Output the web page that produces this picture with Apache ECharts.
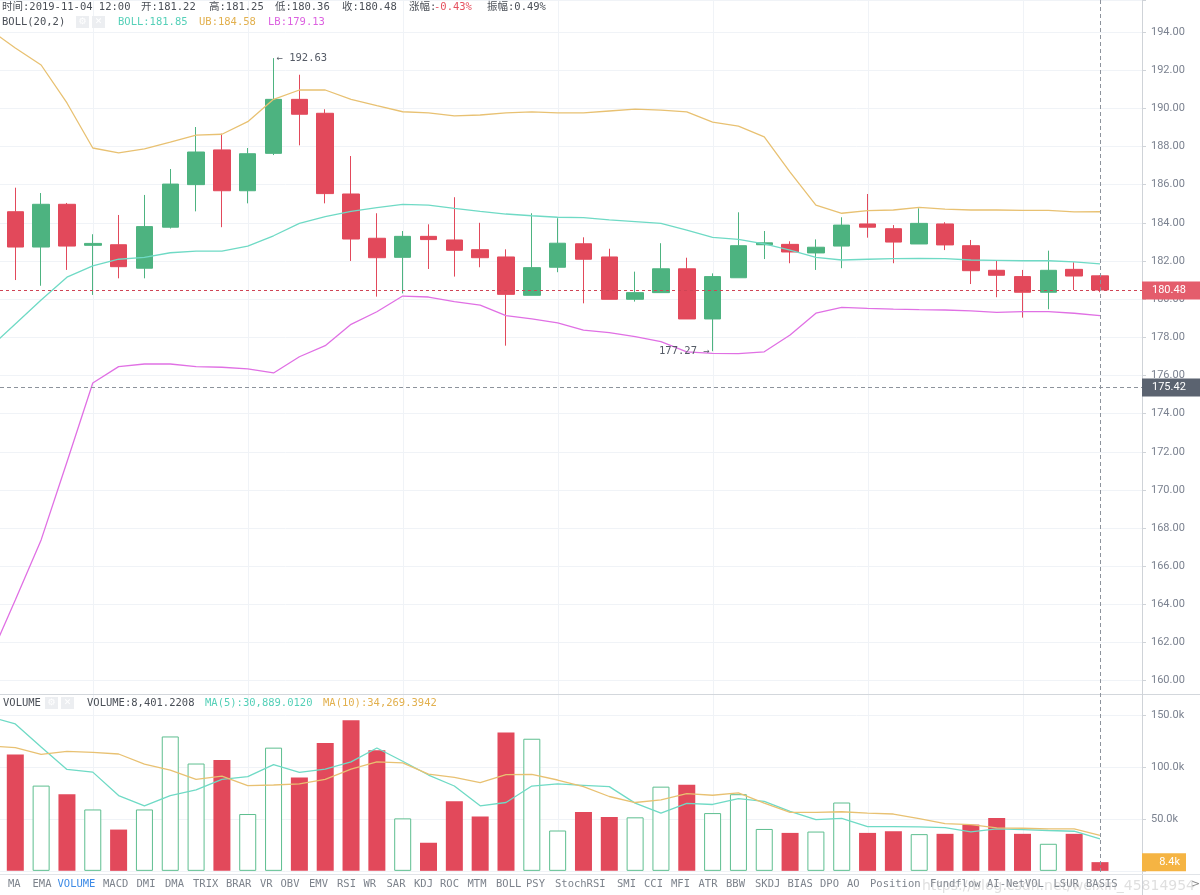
<!DOCTYPE html>
<html><head><meta charset="utf-8">
<script src="https://cdn.jsdelivr.net/npm/echarts@6/dist/echarts.min.js"></script>
<style>html,body{margin:0;padding:0;background:#fff}#c{width:1200px;height:895px}</style>
</head><body><div id="c"></div><script>
// ---------------- data ----------------
const categories = [
 '2019-11-02 18:00','2019-11-02 19:00','2019-11-02 20:00','2019-11-02 21:00','2019-11-02 22:00','2019-11-02 23:00',
 '2019-11-03 00:00','2019-11-03 01:00','2019-11-03 02:00','2019-11-03 03:00','2019-11-03 04:00','2019-11-03 05:00',
 '2019-11-03 06:00','2019-11-03 07:00','2019-11-03 08:00','2019-11-03 09:00','2019-11-03 10:00','2019-11-03 11:00',
 '2019-11-03 12:00','2019-11-03 13:00','2019-11-03 14:00','2019-11-03 15:00','2019-11-03 16:00','2019-11-03 17:00',
 '2019-11-03 18:00','2019-11-03 19:00','2019-11-03 20:00','2019-11-03 21:00','2019-11-03 22:00','2019-11-03 23:00',
 '2019-11-04 00:00','2019-11-04 01:00','2019-11-04 02:00','2019-11-04 03:00','2019-11-04 04:00','2019-11-04 05:00',
 '2019-11-04 06:00','2019-11-04 07:00','2019-11-04 08:00','2019-11-04 09:00','2019-11-04 10:00','2019-11-04 11:00',
 '2019-11-04 12:00'];
const openValues = [184.58,182.73,184.97,182.82,182.85,181.62,183.77,186.00,187.82,185.68,187.64,190.47,189.74,185.51,183.19,182.19,183.29,183.10,182.59,182.21,180.20,181.67,182.90,182.21,179.99,180.34,181.59,178.96,181.12,182.85,182.87,182.42,182.78,183.94,183.69,182.89,183.94,182.80,181.51,181.18,180.36,181.56,181.22];
const closeValues = [182.73,184.97,182.78,182.92,181.70,183.80,186.03,187.71,185.68,187.62,190.47,189.69,185.53,183.15,182.17,183.29,183.12,182.56,182.17,180.25,181.65,182.93,182.09,179.99,180.34,181.59,178.96,181.18,182.80,182.95,182.47,182.72,183.88,183.77,182.99,183.97,182.84,181.49,181.25,180.36,181.51,181.21,180.48];
const lowValues = [181.00,180.70,181.53,180.22,181.09,181.09,183.70,184.60,183.77,185.02,187.55,188.06,185.02,182.00,180.13,180.30,181.58,181.18,181.67,177.56,180.20,181.41,179.78,179.99,179.87,180.34,178.96,177.27,181.12,182.10,181.88,181.53,181.62,183.22,181.88,182.89,182.57,180.79,180.10,179.03,179.47,180.48,180.36];
const highValues = [185.84,185.56,185.04,183.40,184.41,185.46,186.82,189.02,188.67,187.92,192.63,191.76,189.95,187.50,184.50,183.57,183.92,185.34,184.00,182.61,184.50,184.24,183.24,182.64,181.44,182.93,182.17,181.35,184.55,183.57,183.03,183.13,184.29,185.51,183.88,184.76,184.03,183.10,182.01,181.53,182.54,181.93,181.25];
// indicator lines: first value belongs to the (off-screen) candle before the first one
const bollMid = [177.45,178.70,179.95,181.15,181.74,182.09,182.19,182.43,182.52,182.52,182.78,183.32,183.97,184.32,184.60,184.79,184.97,184.93,184.76,184.60,184.46,184.37,184.29,184.27,184.15,184.06,183.97,183.62,183.24,183.13,182.89,182.57,182.19,182.05,182.09,182.12,182.14,182.12,182.05,182.03,182.01,182.01,181.95,181.85];
const bollUpper = [194.14,193.16,192.27,190.28,187.92,187.66,187.87,188.23,188.60,188.64,189.30,190.47,190.96,190.96,190.47,190.14,189.82,189.76,189.60,189.65,189.76,189.81,189.76,189.76,189.86,189.96,189.91,189.81,189.28,189.07,188.50,186.66,184.93,184.50,184.64,184.67,184.81,184.72,184.67,184.67,184.65,184.65,184.57,184.58];
const bollLower = [161.14,164.23,167.38,171.46,175.60,176.46,176.60,176.60,176.46,176.43,176.34,176.13,176.98,177.56,178.68,179.34,180.16,180.11,179.87,179.69,179.13,178.96,178.76,178.38,178.24,178.03,177.77,177.24,177.16,177.14,177.24,178.12,179.26,179.57,179.52,179.48,179.45,179.43,179.38,179.31,179.34,179.34,179.26,179.13];
const volumes = [112100,82200,73900,59200,39800,59200,129600,103500,107000,54800,118800,90100,123200,145200,116200,50600,27100,67200,52500,133400,127400,38900,56700,51900,51600,81200,83100,55700,73900,40400,36600,37900,65900,36600,38200,35400,35700,44600,51000,35700,26100,35700,8401.2208];
const volumeMA5 = [148700,141700,119400,97800,95200,72600,62700,72600,78000,88200,90800,102500,94900,98100,105100,118500,105700,92400,81800,62700,65900,81800,83800,82500,81200,65300,55700,65000,64000,69700,66900,57300,49400,50600,42700,42700,42400,41700,37600,40400,39800,38900,38200,30889.012];
const volumeMA10 = [120400,118800,112400,115300,114300,112700,102900,97100,88200,91400,82200,82800,83800,88200,98100,105100,104100,93300,90100,85000,92700,93000,87600,81200,71700,65900,68500,74500,72900,75200,65300,56400,56400,57000,55700,54800,50300,45500,44600,41400,41100,40400,40400,34269.3942];
const priceTickStep = 2;
const volumeTickStep = 50000;
const crosshairPrice = 175.42;
const headerLine1 = [['时间:2019-11-04 12:00',2],['开:181.22',141],['高:181.25',209],['低:180.36',275],['收:180.48',342],['涨幅:',409],['-0.43%',434,'red'],['振幅:0.49%',487]];
const toolbarLabels = ['MA','EMA','VOLUME','MACD','DMI','DMA','TRIX','BRAR','VR','OBV','EMV','RSI','WR','SAR','KDJ','ROC','MTM','BOLL','PSY','StochRSI','SMI','CCI','MFI','ATR','BBW','SKDJ','BIAS','DPO','AO','Position','Fundflow','AI-NetVOL','LSUR','BASIS'];

// ---------------- layout / style ----------------
const toolbarX = [8,32.5,57.5,103,136.5,165,193,226,260,280.5,309,337,363.5,386.5,414,440,467.5,496,526,555,617,644,671,698.5,726,755,787.5,820,847,870,930,987,1053.5,1086];
const RED = '#E2495B', GREEN = '#4DB380', HOLLOW = '#5DBE8F';
const C_MID = '#6FDAC5', C_UB = '#E8C172', C_LB = '#E070E4';
const T_MID = '#55D0B8', T_UB = '#E2B04E', T_LB = '#DC62E0';
const MONO = '10.5px "DejaVu Sans Mono","Noto Sans CJK SC",monospace';
const BAND = 25.826;      // px per candle
const FIRST_X = 15.3;     // px centre of first candle
const AX_X = 1142;        // price axis line
const X_MIN = -FIRST_X / BAND, X_MAX = (AX_X - FIRST_X) / BAND;
const PANE_SPLIT = 694, VOL_BOTTOM = 870.85;
const yTop = 194 + 32 / 19.08, yBottom = 194 - (PANE_SPLIT - 32) / 19.08;
const volMax = (VOL_BOTTOM - PANE_SPLIT) / 103.7 * 100000;

const chart = echarts.init(document.getElementById('c'), null, {renderer:'canvas', width:1200, height:895});

const candleData = categories.map((c, i) => [i, openValues[i], closeValues[i], lowValues[i], highValues[i]]);
const lineData = arr => arr.map((v, i) => [i - 1, v]);
const volData = volumes.map((v, i) => {
  const down = closeValues[i] < openValues[i];
  return {value: [i, v], itemStyle: down
    ? {color: RED, borderColor: RED, borderWidth: 0}
    : {color: '#ffffff', borderColor: HOLLOW, borderWidth: 1}};
});
const gridLine = {show: true, lineStyle: {color: '#f0f3f7', width: 1}};
const xAx = gi => ({type: 'value', gridIndex: gi, min: X_MIN, max: X_MAX,
  axisLine: {show: false, onZero: false}, axisTick: {show: false}, axisLabel: {show: false}, splitLine: {show: false}});
const axLabel = {color: '#7b8290', fontSize: 11, fontFamily: 'Roboto', margin: 9};
const isStep = (v, s) => Math.abs(v / s - Math.round(v / s)) < 1e-6;

chart.setOption({
  animation: false,
  backgroundColor: '#ffffff',
  grid: [
    {left: 0, right: 1200 - AX_X, top: 0, height: PANE_SPLIT},
    {left: 0, right: 1200 - AX_X, top: PANE_SPLIT, height: VOL_BOTTOM - PANE_SPLIT}
  ],
  xAxis: [xAx(0), xAx(1)],
  yAxis: [
    {type: 'value', gridIndex: 0, position: 'right', min: yBottom, max: yTop, minInterval: priceTickStep, maxInterval: priceTickStep, splitNumber: 18,
     axisLine: {show: true, onZero: false, lineStyle: {color: '#cfd3d8'}}, axisTick: {show: true, length: 4, lineStyle: {color: '#cfd3d8'}},
     axisLabel: Object.assign({}, axLabel, {formatter: v => isStep(v, priceTickStep) ? v.toFixed(2) : ''}),
     splitLine: gridLine},
    {type: 'value', gridIndex: 1, position: 'right', min: 0, max: volMax, interval: volumeTickStep,
     axisLine: {show: true, onZero: false, lineStyle: {color: '#cfd3d8'}}, axisTick: {show: true, length: 4, lineStyle: {color: '#cfd3d8'}},
     axisLabel: Object.assign({}, axLabel, {formatter: v => (v > 0 && isStep(v, volumeTickStep)) ? (v / 1000).toFixed(1) + 'k' : ''}),
     splitLine: gridLine}
  ],
  series: [
    {type: 'candlestick', name: 'K', xAxisIndex: 0, yAxisIndex: 0, data: candleData, barWidth: 17,
     encode: {x: 0, y: [1, 2, 3, 4]},
     itemStyle: {color: GREEN, color0: RED, borderColor: GREEN, borderColor0: RED, borderWidth: 1}},
    {type: 'line', name: 'BOLL', xAxisIndex: 0, yAxisIndex: 0, data: lineData(bollMid), showSymbol: false, symbol: 'none', z: 3, lineStyle: {color: C_MID, width: 1.3}},
    {type: 'line', name: 'UB', xAxisIndex: 0, yAxisIndex: 0, data: lineData(bollUpper), showSymbol: false, symbol: 'none', z: 3, lineStyle: {color: C_UB, width: 1.3}},
    {type: 'line', name: 'LB', xAxisIndex: 0, yAxisIndex: 0, data: lineData(bollLower), showSymbol: false, symbol: 'none', z: 3, lineStyle: {color: C_LB, width: 1.3}},
    {type: 'bar', name: 'VOLUME', xAxisIndex: 1, yAxisIndex: 1, data: volData, barWidth: 17},
    {type: 'line', name: 'MA5', xAxisIndex: 1, yAxisIndex: 1, data: lineData(volumeMA5), showSymbol: false, symbol: 'none', z: 3, lineStyle: {color: C_MID, width: 1.3}},
    {type: 'line', name: 'MA10', xAxisIndex: 1, yAxisIndex: 1, data: lineData(volumeMA10), showSymbol: false, symbol: 'none', z: 3, lineStyle: {color: C_UB, width: 1.3}}
  ]
});

// ---------------- overlays ----------------
const P = (gi, x, y) => chart.convertToPixel({gridIndex: gi}, [x, y]);
const G = [];
const txt = (x, y, text, fill, o = {}) => G.push({type: 'text', x, y, silent: true, z: o.z ?? 100,
  style: {text, fill, font: o.font || MONO, textAlign: o.align || 'left', textVerticalAlign: 'middle'}});
const ln = (x1, y1, x2, y2, stroke, dash, z) => G.push({type: 'line', silent: true, z: z ?? 90,
  shape: {x1, y1, x2, y2}, style: {stroke, lineWidth: 1, lineDash: dash || null}});
const rc = (x, y, width, height, fill, z, stroke) => G.push({type: 'rect', silent: true, z: z ?? 95,
  shape: {x, y, width, height}, style: {fill, stroke: stroke || null}});

// vertical grid lines every 6 candles (behind the series)
categories.forEach((c, i) => {
  if (i % 6 === 3) {
    const x = Math.round(P(0, i, 180)[0]) + 0.5;
    ln(x, 0, x, PANE_SPLIT, '#f0f3f7', null, 0);
    ln(x, PANE_SPLIT, x, VOL_BOTTOM, '#f0f3f7', null, 0);
  }
});

const last = categories.length - 1;
const lastX = Math.round(P(0, last, 180)[0]) + 0.5;
const yLast = Math.round(P(0, 0, closeValues[last])[1]) + 0.5;
const yCross = Math.round(P(0, 0, crosshairPrice)[1]) + 0.5;
const yVol = P(1, 0, volumes[last])[1];

// pane separators, axis line, toolbar border
ln(0, PANE_SPLIT + 0.5, 1200, PANE_SPLIT + 0.5, '#d3d7dc', null, 80);
ln(AX_X + 0.5, 0, AX_X + 0.5, 895, '#cfd3d8', null, 80);
ln(0, 874.5, 1200, 874.5, '#e1e4e8', null, 80);
// last price and crosshair lines
ln(0, yLast, AX_X, yLast, '#cf4455', [3, 3]);
ln(0, yCross, AX_X, yCross, '#8d939c', [4, 3]);
ln(lastX, 0, lastX, 874, '#8d939c', [4, 3]);
// axis value boxes
rc(AX_X, yLast - 9, 58, 18, '#E45D6C', 96);
txt(1152, yLast, closeValues[last].toFixed(2), '#ffffff', {font: '11px Roboto', z: 97});
rc(AX_X, yCross - 9, 58, 18, '#5B6370', 96);
txt(1152, yCross, crosshairPrice.toFixed(2), '#ffffff', {font: '11px Roboto', z: 97});
rc(AX_X, yVol - 9, 44, 18, '#F5B443', 96);
txt(1180, yVol, (volumes[last] / 1000).toFixed(1) + 'k', '#ffffff', {font: '11px Roboto', z: 97, align: 'right'});
txt(1191, 884, '>', '#888', {font: '11px "DejaVu Sans"'});

// high / low annotations
const iHigh = highValues.indexOf(Math.max(...highValues));
const iLow = lowValues.indexOf(Math.min(...lowValues));
const pH = P(0, iHigh, highValues[iHigh]);
const pL = P(0, iLow, lowValues[iLow]);
txt(pH[0] + 3, pH[1], '← ' + highValues[iHigh].toFixed(2), '#555b66');
txt(pL[0] - 3, pL[1], lowValues[iLow].toFixed(2) + ' →', '#555b66', {align: 'right'});

// header texts
headerLine1.forEach(([t, x, c]) => txt(x, 7, t, c ? '#E5505F' : '#4a4f57'));
txt(2, 22, 'BOLL(20,2)', '#4a4f57');
const icon = (x, y, ch) => { rc(x, y, 13, 12, '#eceef1', 99); txt(x + 6.5, y + 6, ch, '#ffffff', {font: '9px "DejaVu Sans"', align: 'center', z: 100}); };
icon(76, 16, '⚙'); icon(92, 16, '✕');
txt(118, 22, 'BOLL:' + bollMid[bollMid.length - 1].toFixed(2), T_MID);
txt(199, 22, 'UB:' + bollUpper[bollUpper.length - 1].toFixed(2), T_UB);
txt(268, 22, 'LB:' + bollLower[bollLower.length - 1].toFixed(2), T_LB);

const fmt4 = v => v.toLocaleString('en-US', {minimumFractionDigits: 4, maximumFractionDigits: 4});
txt(3, 703, 'VOLUME', '#4a4f57');
icon(45, 697, '⚙'); icon(61, 697, '✕');
txt(87, 703, 'VOLUME:' + fmt4(volumes[last]), '#4a4f57');
txt(205, 703, 'MA(5):' + fmt4(volumeMA5[volumeMA5.length - 1]), T_MID);
txt(323, 703, 'MA(10):' + fmt4(volumeMA10[volumeMA10.length - 1]), T_UB);

// indicator toolbar
toolbarLabels.forEach((t, i) => txt(toolbarX[i], 884, t, t === 'VOLUME' ? '#3E8BE6' : '#7d838c'));
// watermark of the source picture
txt(922, 886, 'https://blog.csdn.net/weixin_45814954', 'rgba(185,185,185,0.45)', {font: '14px "DejaVu Sans"', z: 101});

chart.setOption({graphic: {elements: G}});
</script></body></html>
